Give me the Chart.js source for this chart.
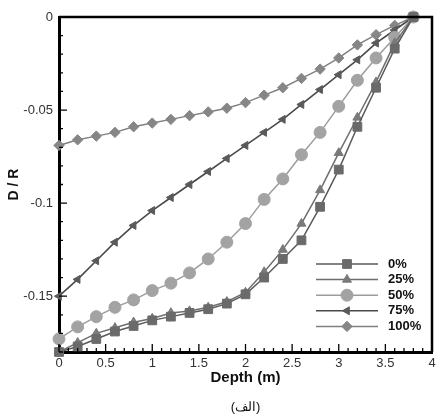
<!DOCTYPE html>
<html>
<head>
<meta charset="utf-8">
<script src="https://cdn.jsdelivr.net/npm/chart.js@4/dist/chart.umd.min.js"></script>
<style>
  html, body { margin: 0; padding: 0; background: #fff; }
</style>
</head>
<body>
<canvas id="chart" width="443" height="417"></canvas>
<script>
// depth positions (m) along the x axis
var depth = [0, 0.2, 0.4, 0.6, 0.8, 1.0, 1.2, 1.4, 1.6, 1.8, 2.0, 2.2, 2.4, 2.6, 2.8, 3.0, 3.2, 3.4, 3.6, 3.8];

// D / R for each case
var dr0   = [-0.18, -0.177, -0.173, -0.169, -0.166, -0.163, -0.161, -0.159, -0.157, -0.154, -0.149, -0.140, -0.130, -0.120, -0.102, -0.082, -0.059, -0.038, -0.017, 0];
var dr25  = [-0.18, -0.175, -0.170, -0.167, -0.164, -0.162, -0.159, -0.158, -0.156, -0.153, -0.148, -0.137, -0.125, -0.111, -0.093, -0.073, -0.054, -0.035, -0.014, 0];
var dr50  = [-0.173, -0.1665, -0.161, -0.156, -0.152, -0.147, -0.143, -0.1375, -0.130, -0.121, -0.111, -0.098, -0.087, -0.074, -0.062, -0.048, -0.034, -0.022, -0.011, 0];
var dr75  = [-0.150, -0.141, -0.131, -0.121, -0.112, -0.104, -0.097, -0.090, -0.083, -0.076, -0.069, -0.062, -0.055, -0.047, -0.039, -0.031, -0.023, -0.014, -0.007, 0];
var dr100 = [-0.069, -0.066, -0.064, -0.062, -0.059, -0.057, -0.055, -0.053, -0.051, -0.049, -0.046, -0.042, -0.038, -0.033, -0.028, -0.022, -0.015, -0.0095, -0.0045, 0];

var seriesLabels = ['0%', '25%', '50%', '75%', '100%'];
var xTicks = [0, 0.5, 1, 1.5, 2, 2.5, 3, 3.5, 4];
var yTicks = [-0.15, -0.1, -0.05, 0];

function pts(vals) {
  return vals.map(function (v, i) { return { x: depth[i], y: v }; });
}

var FONT = '"Liberation Sans", Arial, sans-serif';

// inward ticks + top/right frame
var frameTicks = {
  id: 'frameTicks',
  afterDraw: function (chart) {
    var ctx = chart.ctx, a = chart.chartArea, sx = chart.scales.x, sy = chart.scales.y;
    ctx.save();
    ctx.strokeStyle = '#000';
    ctx.lineWidth = 1.3;
    ctx.beginPath();
    for (var i = 0; i <= 40; i++) {
      var px = sx.getPixelForValue(i / 10), len = i % 5 === 0 ? 8 : 4;
      ctx.moveTo(px, a.bottom);
      ctx.lineTo(px, a.bottom - len);
    }
    for (var j = 0; j <= 18; j++) {
      var py = sy.getPixelForValue(-j / 100), l2 = j % 5 === 0 ? 8 : 4;
      ctx.moveTo(a.left, py);
      ctx.lineTo(a.left + l2, py);
    }
    ctx.stroke();
    ctx.lineWidth = 2.5;
    ctx.beginPath();
    ctx.moveTo(a.left, a.top);
    ctx.lineTo(a.right, a.top);
    ctx.lineTo(a.right, a.bottom);
    ctx.stroke();
    ctx.restore();
  }
};

// legend inside the plot, line with marker in the middle
var legendBox = {
  id: 'legendBox',
  afterDraw: function (chart) {
    var ctx = chart.ctx, a = chart.chartArea;
    var x0 = a.right - 116, y0 = a.bottom - 88;
    chart.data.datasets.forEach(function (ds, i) {
      var y = y0 + i * 15.6;
      ctx.save();
      ctx.strokeStyle = ds.borderColor;
      ctx.lineWidth = ds.borderWidth;
      ctx.beginPath();
      ctx.moveTo(x0, y);
      ctx.lineTo(x0 + 62, y);
      ctx.stroke();
      ctx.fillStyle = ds.pointBackgroundColor;
      ctx.strokeStyle = ds.pointBorderColor;
      ctx.lineWidth = 1;
      Chart.helpers.drawPoint(ctx, {
        pointStyle: ds.pointStyle,
        radius: ds.pointRadius,
        rotation: ds.pointRotation || 0,
        borderWidth: 1
      }, x0 + 31, y);
      ctx.fillStyle = '#111';
      ctx.font = 'bold 13px ' + FONT;
      ctx.textBaseline = 'middle';
      ctx.textAlign = 'left';
      ctx.fillText(ds.label, x0 + 72, y);
      ctx.restore();
    });
  }
};

function ds(label, vals, line, fill, style, r, rot, w) {
  return {
    label: label,
    data: pts(vals),
    borderColor: line,
    borderWidth: w,
    pointBackgroundColor: fill,
    pointBorderColor: fill,
    pointBorderWidth: 1,
    pointStyle: style,
    pointRadius: r,
    pointRotation: rot,
    clip: false
  };
}

var ctx = document.getElementById('chart').getContext('2d');
var chart = new Chart(ctx, {
  type: 'line',
  data: {
    datasets: [
      ds(seriesLabels[0], dr0,   '#5a5a5a', '#6a6a6a', 'rect',     6.2, 0,   1.5),
      ds(seriesLabels[1], dr25,  '#6e6e6e', '#7a7a7a', 'triangle', 5.2, 0,   1.5),
      ds(seriesLabels[2], dr50,  '#9c9c9c', '#a3a3a3', 'circle',   6,   0,   1.5),
      ds(seriesLabels[3], dr75,  '#4a4a4a', '#5a5a5a', 'triangle', 4.6, -90, 1.6),
      ds(seriesLabels[4], dr100, '#808080', '#868686', 'rectRot',  5.2, 0,   1.5)
    ]
  },
  options: {
    responsive: false,
    animation: false,
    layout: { padding: { left: 0, right: 11, top: 17, bottom: 0 } },
    plugins: {
      legend: { display: false },
      tooltip: { enabled: false },
      title: {
        display: true,
        position: 'bottom',
        fullSize: false,
        text: '(الف)',
        color: '#111',
        font: { family: FONT, size: 13, weight: 'normal' },
        padding: { top: 8, bottom: 1.4 }
      }
    },
    scales: {
      x: {
        type: 'linear',
        min: 0,
        max: 4,
        afterBuildTicks: function (s) { s.ticks = xTicks.map(function (v) { return { value: v }; }); },
        afterFit: function (s) { s.height = 40; },
        grid: { display: false, drawTicks: false },
        border: { display: true, width: 3, color: '#000' },
        ticks: {
          autoSkip: false,
          maxRotation: 0,
          padding: 4,
          color: '#333',
          font: { family: FONT, size: 13 },
          callback: function (v) { return String(v); }
        },
        title: {
          display: true,
          text: 'Depth (m)',
          color: '#111',
          font: { family: FONT, size: 15, weight: 'bold' },
          padding: { top: 0, bottom: 5 }
        }
      },
      y: {
        type: 'linear',
        min: -0.18,
        max: 0,
        afterBuildTicks: function (s) { s.ticks = yTicks.map(function (v) { return { value: v }; }); },
        afterFit: function (s) { s.width = 59; },
        grid: { display: false, drawTicks: false },
        border: { display: true, width: 3, color: '#000' },
        ticks: {
          autoSkip: false,
          padding: 6,
          color: '#333',
          font: { family: FONT, size: 13 },
          callback: function (v) { return String(v); }
        },
        title: {
          display: true,
          text: 'D / R',
          color: '#111',
          font: { family: FONT, size: 14, weight: 'bold' },
          padding: { top: 6, bottom: 0 }
        }
      }
    }
  },
  plugins: [frameTicks, legendBox]
});
</script>
</body>
</html>
